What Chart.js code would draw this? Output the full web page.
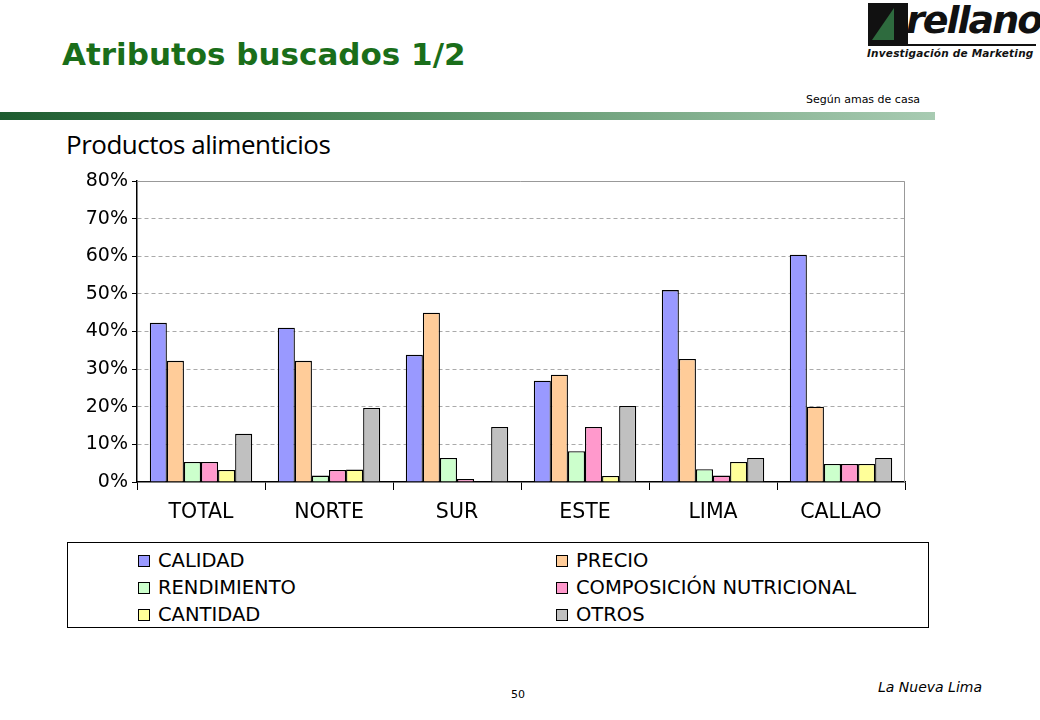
<!DOCTYPE html>
<html><head><meta charset="utf-8">
<script src="https://cdn.jsdelivr.net/npm/chart.js@4"></script>
<style>
body{margin:0;width:1040px;height:720px;background:#fff;position:relative;font-family:"DejaVu Sans",sans-serif;overflow:hidden}
.abs{position:absolute;white-space:nowrap}
#title{left:62px;top:36px;font:bold 31px "DejaVu Sans",sans-serif;color:#1a6e1a}
#bar{left:0;top:112px;width:935px;height:8px;background:linear-gradient(to right,#1e5c30,#4f8a5e 40%,#a8cbb2)}
#sub{left:66px;top:126px;font:26px "Open Sans",sans-serif;color:#000;letter-spacing:-0.5px}
#segun{left:806px;top:93px;font:11px "DejaVu Sans",sans-serif}
#logoBox{left:868px;top:3px;width:40px;height:41px;background:#111}
#logoTri{left:872px;top:8px;width:0;height:0;border-left:22px solid transparent;border-bottom:32px solid #2e6b3e}
#logoTxt{left:906px;top:-2px;font:italic bold 38px "DejaVu Sans",sans-serif;color:#111;letter-spacing:-2px}
#logoSub{left:867px;top:47px;font:italic bold 10.5px "DejaVu Sans",sans-serif;color:#111;letter-spacing:0.2px}
#logoLine{left:868px;top:44px;width:168px;height:2px;background:#111}
#wrap{left:60px;top:165px;width:855px;height:370px}
#legend{left:67px;top:542px;width:862px;height:86px;border:1px solid #000;box-sizing:border-box;display:grid;grid-template-columns:418px 420px;padding:4px 0 0 70px;font:19.5px "DejaVu Sans",sans-serif;line-height:27px}
.it{display:flex;align-items:center}
.sw{width:10px;height:10px;border:1px solid #000;margin-right:8px}
#page{left:511px;top:688px;font:11px "DejaVu Sans",sans-serif}
#nl{left:878px;top:679px;font:italic 14px "DejaVu Sans",sans-serif}
</style></head><body>
<div id="title" class="abs">Atributos buscados 1/2</div>
<div id="segun" class="abs">Según amas de casa</div>
<div id="bar" class="abs"></div>
<div id="sub" class="abs">Productos alimenticios</div>
<div id="logoBox" class="abs"></div>
<div id="logoTri" class="abs"></div>
<div id="logoTxt" class="abs">rellano</div>
<div id="logoLine" class="abs"></div>
<div id="logoSub" class="abs">Investigación de Marketing</div>
<div id="wrap" class="abs"><canvas id="c"></canvas></div>
<div id="legend" class="abs"></div>
<div id="page" class="abs">50</div>
<div id="nl" class="abs">La Nueva Lima</div>
<script>
const categories=["TOTAL","NORTE","SUR","ESTE","LIMA","CALLAO"];
const seriesNames=["CALIDAD","PRECIO","RENDIMIENTO","COMPOSICIÓN NUTRICIONAL","CANTIDAD","OTROS"];
const calidad=[42.3,41,33.8,26.9,51,60.4];
const precio=[32.2,32.2,45,28.5,32.7,20];
const rendimiento=[5.3,1.7,6.4,8.2,3.4,4.8];
const composicion=[5.3,3.2,0.8,14.6,1.7,4.8];
const cantidad=[3.2,3.3,0,1.6,5.3,4.8];
const otros=[12.8,19.7,14.6,20.2,6.4,6.4];
const colors=["#9999ff","#ffcc99","#ccffcc","#ff99cc","#ffff99","#c0c0c0"];
const values=[calidad,precio,rendimiento,composicion,cantidad,otros];
const leg=document.getElementById('legend');
seriesNames.forEach((n,i)=>{const d=document.createElement('div');d.className='it';
d.innerHTML='<span class="sw" style="background:'+colors[i]+'"></span>'+n;leg.appendChild(d);});
const frame={id:'frame',beforeDatasetsDraw(ch){const a=ch.chartArea,c=ch.ctx;c.save();c.strokeStyle='#999';c.lineWidth=1;
c.beginPath();c.moveTo(a.left,a.top+0.5);c.lineTo(a.right-0.5,a.top+0.5);c.lineTo(a.right-0.5,a.bottom);c.stroke();c.restore();}};
new Chart(document.getElementById('c'),{type:'bar',
data:{labels:categories,datasets:values.map((v,i)=>({label:seriesNames[i],data:v,backgroundColor:colors[i],borderColor:'#000',borderWidth:1.3,categoryPercentage:0.8,barPercentage:1}))},
options:{responsive:true,maintainAspectRatio:false,animation:false,
layout:{padding:{top:16,right:10}},
plugins:{legend:{display:false},tooltip:{enabled:false}},
scales:{
y:{min:0,max:80,afterFit(s){s.width=77},ticks:{stepSize:10,callback:v=>v+'%',color:'#000',font:{size:19,family:'DejaVu Sans'},padding:4},
grid:{color:ctx=>ctx.index===0?'rgba(0,0,0,0)':'#aaa',tickColor:'#000',tickLength:5},border:{color:'#000',width:1.5,dash:[4,3]}},
x:{afterFit(s){s.height=53},grid:{offset:true,drawOnChartArea:false,tickLength:8,color:'#000'},border:{color:'#000',width:1.5},
ticks:{color:'#000',font:{size:20.5,family:'DejaVu Sans'},padding:10}}
}},plugins:[frame]});
</script>
</body></html>
